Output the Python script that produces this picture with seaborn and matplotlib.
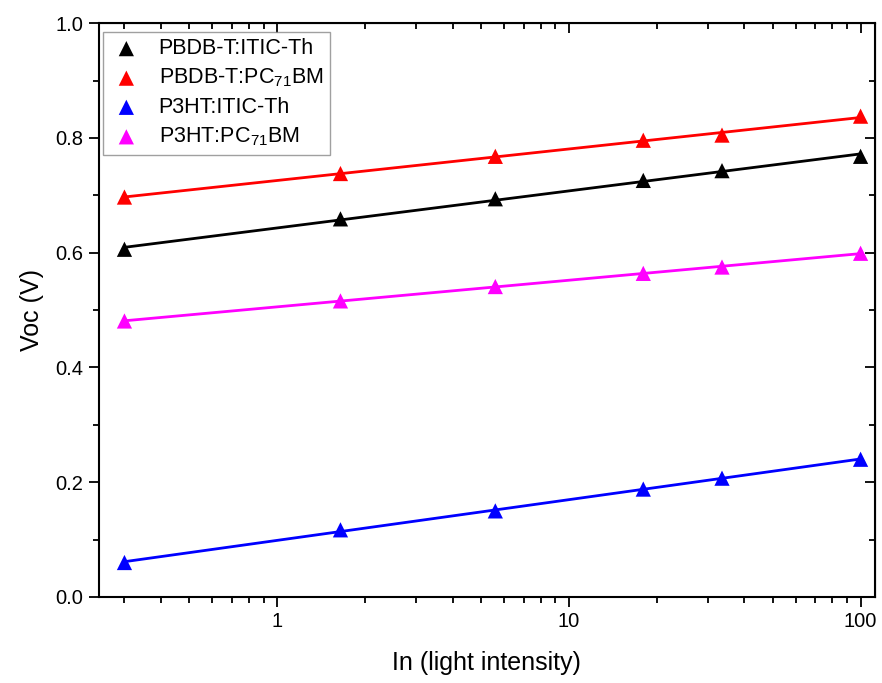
import numpy as np
import matplotlib.pyplot as plt
import seaborn as sns
from matplotlib.ticker import LogLocator, MultipleLocator, NullFormatter

sns.set_style("ticks")
plt.rcParams["font.family"] = ["Liberation Sans", "DejaVu Sans"]
plt.rcParams["mathtext.default"] = "regular"
for k in ["text.color", "axes.labelcolor", "xtick.color", "ytick.color", "axes.edgecolor"]:
    plt.rcParams[k] = "black"

# data
intensity = [0.3, 1.65, 5.6, 18, 33.5, 100]
voc_pbdb_itic = [0.606, 0.659, 0.694, 0.726, 0.743, 0.768]
voc_pbdb_pcbm = [0.697, 0.738, 0.768, 0.796, 0.805, 0.838]
voc_p3ht_itic = [0.060, 0.117, 0.150, 0.188, 0.207, 0.240]
voc_p3ht_pcbm = [0.481, 0.516, 0.541, 0.564, 0.575, 0.599]

labels = ["PBDB-T:ITIC-Th", "PBDB-T:PC$_{71}$BM", "P3HT:ITIC-Th", "P3HT:PC$_{71}$BM"]
colors = ["#000000", "#ff0000", "#0000ff", "#ff00ff"]
series = [voc_pbdb_itic, voc_pbdb_pcbm, voc_p3ht_itic, voc_p3ht_pcbm]

fig = plt.figure(figsize=(8.82, 6.83), dpi=100)
ax = fig.add_axes([0.112, 0.126, 0.880, 0.840])
ax.set_xscale("log")

# 线性拟合 (Voc vs ln I)
for vals, lab, c in zip(series, labels, colors):
    sns.regplot(x=intensity, y=vals, logx=True, ci=None, marker="^", color=c, ax=ax,
                label=lab,
                scatter_kws=dict(s=120, alpha=1, edgecolors="none", zorder=3),
                line_kws=dict(lw=2, zorder=2))

ax.set_xlim(0.245, 112)
ax.set_ylim(0, 1.0)
ax.set_xticks([1, 10, 100])
ax.set_xticklabels(["1", "10", "100"])
ax.xaxis.set_minor_locator(LogLocator(base=10, subs=np.arange(2, 10)))
ax.xaxis.set_minor_formatter(NullFormatter())
ax.yaxis.set_major_locator(MultipleLocator(0.2))
ax.yaxis.set_minor_locator(MultipleLocator(0.1))
ax.yaxis.set_major_formatter(plt.FormatStrFormatter("%.1f"))

ax.tick_params(which="major", direction="out", length=7, width=1.3, labelsize=14.5, pad=4)
ax.tick_params(which="minor", direction="out", length=4, width=1.3)
for sp in ax.spines.values():
    sp.set_linewidth(1.5)
    sp.set_visible(True)

# inward ticks on top and right
top = ax.secondary_xaxis("top")
top.set_xticks([1, 10, 100])
top.xaxis.set_minor_locator(LogLocator(base=10, subs=np.arange(2, 10)))
top.tick_params(which="major", direction="in", length=7, width=1.3, labeltop=False)
top.tick_params(which="minor", direction="in", length=4, width=1.3)
top.xaxis.set_minor_formatter(NullFormatter())
right = ax.secondary_yaxis("right")
right.yaxis.set_major_locator(MultipleLocator(0.2))
right.yaxis.set_minor_locator(MultipleLocator(0.1))
right.tick_params(which="major", direction="in", length=7, width=1.3, labelright=False)
right.tick_params(which="minor", direction="in", length=4, width=1.3)

ax.set_xlabel("In (light intensity)", fontsize=18, labelpad=14)
ax.set_ylabel("Voc (V)", fontsize=18, labelpad=8)

leg = ax.legend(loc="upper left", bbox_to_anchor=(0.005, 0.985), borderaxespad=0,
                fontsize=15.5, frameon=True, fancybox=False, edgecolor="#888888",
                handletextpad=0.7, labelspacing=0.35, borderpad=0.3, handlelength=1.6)
leg.get_frame().set_linewidth(1.0)

plt.savefig("out.png", dpi=100)
